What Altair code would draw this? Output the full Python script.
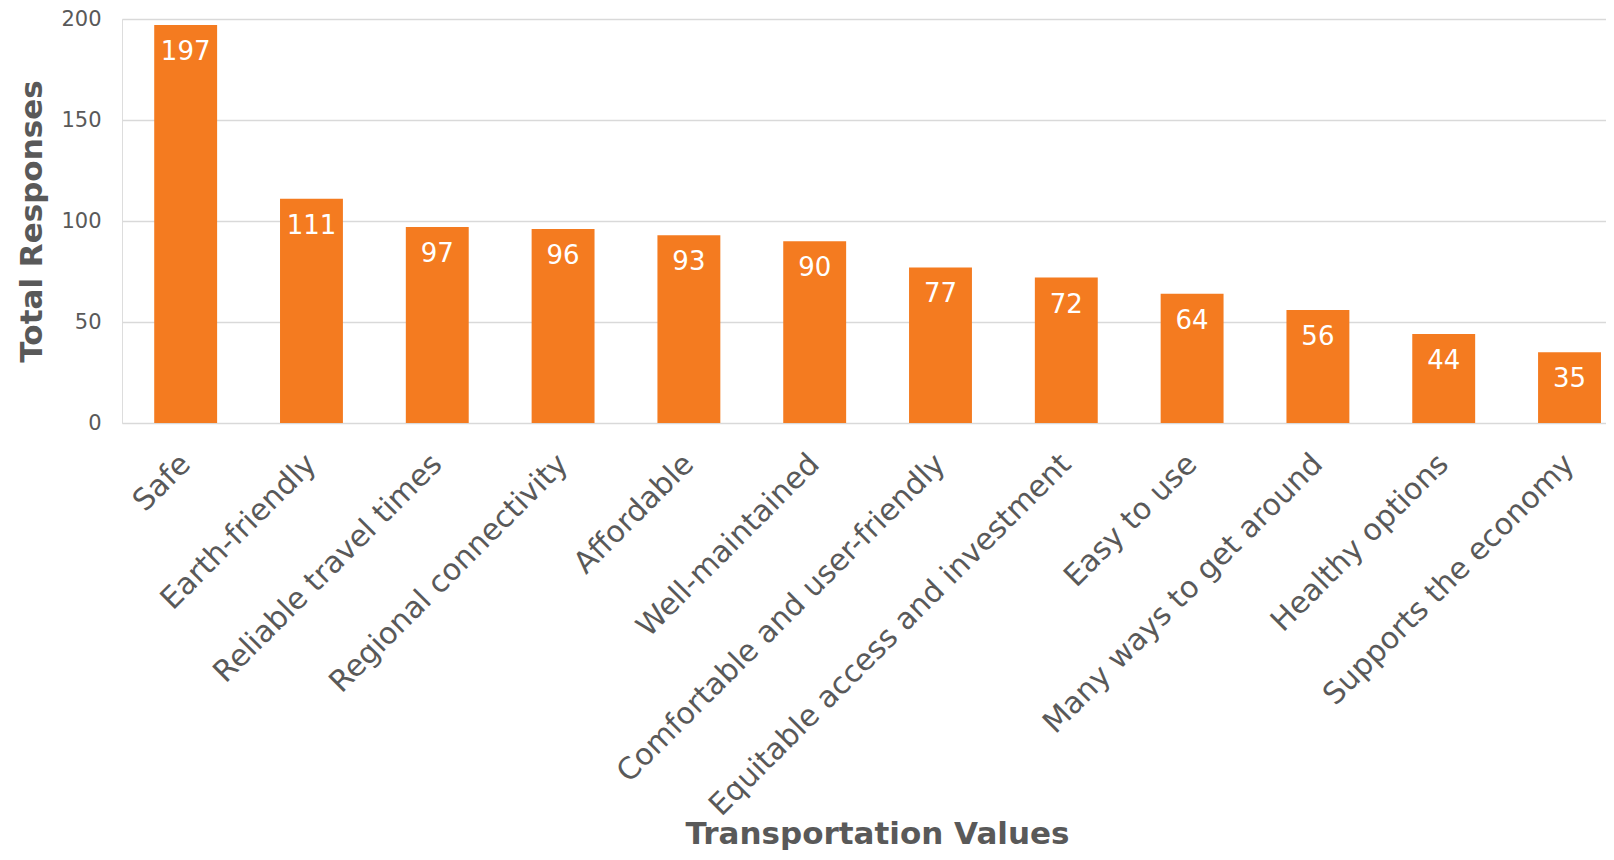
import altair as alt
import pandas as pd

categories = [
    "Safe", "Earth-friendly", "Reliable travel times", "Regional connectivity",
    "Affordable", "Well-maintained", "Comfortable and user-friendly",
    "Equitable access and investment", "Easy to use", "Many ways to get around",
    "Healthy options", "Supports the economy",
]
responses = [197, 111, 97, 96, 93, 90, 77, 72, 64, 56, 44, 35]
y_ticks = [0, 50, 100, 150, 200]

df = pd.DataFrame({"category": categories, "responses": responses})

ORANGE = "#F47B20"
GRAY = "#595959"
FONT = "DejaVu Sans"

x_enc = alt.X(
    "category:N",
    sort=categories,
    scale=alt.Scale(paddingInner=0.5, paddingOuter=0.148, align=0.865),
    axis=alt.Axis(
        title="Transportation Values",
        titleFont=FONT, titleFontSize=31, titleFontWeight="bold", titleColor=GRAY,
        titleX=755, titleY=420, titleBaseline="alphabetic", titleAlign="center",
        labelAngle=315, labelAlign="right", labelBaseline="middle",
        labelFont=FONT, labelFontSize=30, labelColor=GRAY, labelPadding=36,
        ticks=False, domain=False, grid=False, labelLimit=0,
    ),
)

y_enc = alt.Y(
    "responses:Q",
    scale=alt.Scale(domain=[0, 200]),
    axis=alt.Axis(
        title="Total Responses", values=y_ticks,
        titleFont=FONT, titleFontSize=31, titleFontWeight="bold", titleColor=GRAY,
        titlePadding=12,
        labelFont=FONT, labelFontSize=21, labelColor=GRAY, labelPadding=21,
        ticks=False, domain=False, grid=True, gridColor="#D9D9D9", gridWidth=1.5,
    ),
)

base = alt.Chart(df).encode(x=x_enc, y=y_enc)

bars = base.mark_bar(color=ORANGE)
labels = base.mark_text(
    color="white", font=FONT, fontSize=26, baseline="top", dy=14
).encode(text="responses:Q")

chart = (bars + labels).properties(
    width=1484, height=404,
    autosize=alt.AutoSizeParams(type="none"),
    padding={"left": 114, "top": 11, "right": 0, "bottom": 428},
).configure_view(stroke=None).configure(background="white")

chart.save("out.html", embed_options={"renderer": "svg", "actions": False})
